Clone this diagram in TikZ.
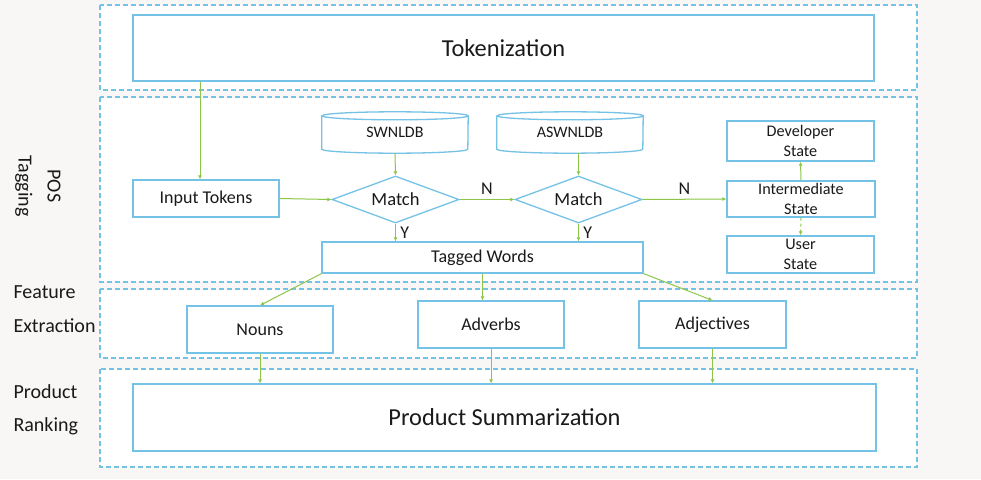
\documentclass[tikz,border=0pt]{standalone}
\usepackage{fontspec}
\setmainfont{Carlito}
\usetikzlibrary{shapes.geometric,arrows.meta}

\definecolor{boxblue}{HTML}{74C2E6}
\definecolor{arrgreen}{HTML}{8DC646}
\definecolor{paper}{HTML}{F8F7F5}
\definecolor{ink}{HTML}{1A1A1A}

\tikzset{
  panel/.style={draw=boxblue,dashed,dash pattern=on 5pt off 3pt,line width=1.2pt,fill=white},
  box/.style={draw=boxblue,line width=1.3pt,fill=white,text=ink,inner sep=0pt,font=\fontsize{18}{19}\selectfont,align=center},
  dec/.style={diamond,draw=boxblue,line width=1.3pt,fill=white,text=ink,inner sep=0pt,aspect=2.7,minimum width=127pt,minimum height=47pt,font=\fontsize{18.5}{19}\selectfont},
  db/.style={text=ink,inner sep=0pt,minimum width=146pt,minimum height=41pt,font=\fontsize{16}{17}\selectfont},
  arr/.style={draw=arrgreen,line width=1pt,-{Latex[length=4pt,width=4pt]},color=arrgreen},
  yn/.style={text=ink,font=\fontsize{18}{19}\selectfont},
  side/.style={text=ink,anchor=west,font=\fontsize{20}{21}\selectfont}
}

\begin{document}
\begin{tikzpicture}[x=1pt,y=-1pt]

  \def\pl{100}
  \def\pr{917}

  % background and panels
  \fill[paper] (0,0) rectangle (981,479);
  \useasboundingbox (0,0) rectangle (981,479);
  \draw[panel] (\pl,5) rectangle (\pr,90);
  \draw[panel] (\pl,97) rectangle (\pr,282);
  \draw[panel] (\pl,289) rectangle (\pr,358);
  \draw[panel] (\pl,369) rectangle (\pr,467);

  % side labels
  \node[text=ink,rotate=-90,align=center,font=\fontsize{20}{29}\selectfont] (lpos) at (38,186) {POS\\Tagging};
  \node[side] (lfe1) at (10,292) {Feature};
  \node[side] (lfe2) at (10,326) {Extraction};
  \node[side] (lpr1) at (10,392) {Product};
  \node[side] (lpr2) at (10,426) {Ranking};

  % boxes
  \node[box,minimum width=741pt,minimum height=66pt,font=\fontsize{24.4}{25}\selectfont] (tok) at (503.5,48) {Tokenization};
  \node[box,minimum width=146pt,minimum height=37pt] (inp) at (206,198.5) {Input Tokens};
  \node[db] (swn) at (395,132.5) {SWNLDB};
  \node[db] (aswn) at (570,132.5) {ASWNLDB};
  \node[dec] (m1) at (395.5,199.5) {Match};
  \node[dec] (m2) at (578.5,199.5) {Match};
  \node[box,minimum width=147pt,minimum height=40pt,font=\fontsize{16.2}{20}\selectfont] (dev) at (800.5,141) {Developer\\State};
  \node[box,minimum width=148pt,minimum height=36pt,font=\fontsize{16.2}{20}\selectfont] (int) at (801,199) {Intermediate\\State};
  \node[box,minimum width=147pt,minimum height=37pt,font=\fontsize{16.2}{20}\selectfont] (usr) at (800.5,254.5) {User\\State};
  \node[box,minimum width=321pt,minimum height=31pt] (tag) at (482.5,257.5) {Tagged Words};
  \node[box,minimum width=146pt,minimum height=47pt] (nouns) at (260,329.5) {Nouns};
  \node[box,minimum width=146pt,minimum height=47pt] (adv) at (491,324.5) {Adverbs};
  \node[box,minimum width=147pt,minimum height=47pt] (adj) at (712.5,324.5) {Adjectives};
  \node[box,minimum width=743pt,minimum height=67pt,font=\fontsize{24.4}{25}\selectfont] (psum) at (504.5,417.5) {Product Summarization};

  % database outlines
  \foreach \d in {swn,aswn}{
    \draw[draw=boxblue,line width=1.3pt]
      ([yshift=-4pt]\d.north west) -- ([yshift=4pt]\d.south west)
      arc[start angle=180,end angle=360,x radius=73pt,y radius=4pt]
      -- ([yshift=-4pt]\d.north east)
      arc[start angle=0,end angle=360,x radius=73pt,y radius=4pt];
  }

  % connectors
  \coordinate (tin) at ([xshift=-6pt]inp.north);
  \draw[arr] (tok.south -| tin) -- (tin);
  \draw[arr] (inp.east) -- (m1.west);
  \draw[arr] (swn.south) -- (m1.north);
  \draw[arr] (m2.north |- aswn.south) -- (m2.north);
  \draw[arr] (m1.east) -- node[yn,above=1pt] (n1) {N} (m2.west);
  \draw[arr] (m2.east) -- node[yn,above=1pt] (n2) {N} (int.west);
  \draw[arr] (m1.south) -- node[yn,right=1pt] (y1) {Y} (m1.south |- tag.north);
  \draw[arr] (m2.south) -- node[yn,right=1pt] (y2) {Y} (m2.south |- tag.north);
  \draw[arr] (int.north) -- (dev.south);
  \draw[arr,dashed] (int.south) -- (usr.north);
  \draw[arr] (tag.south west) -- (nouns.north);
  \draw[arr] (tag.south) -- (tag.south |- adv.north);
  \draw[arr] (tag.south east) -- (adj.north);
  \draw[arr] (nouns.south) -- (nouns.south |- psum.north);
  \draw[arr] (adv.south) -- (adv.south |- psum.north);
  \draw[arr] (adj.south) -- (adj.south |- psum.north);

\end{tikzpicture}
\end{document}
